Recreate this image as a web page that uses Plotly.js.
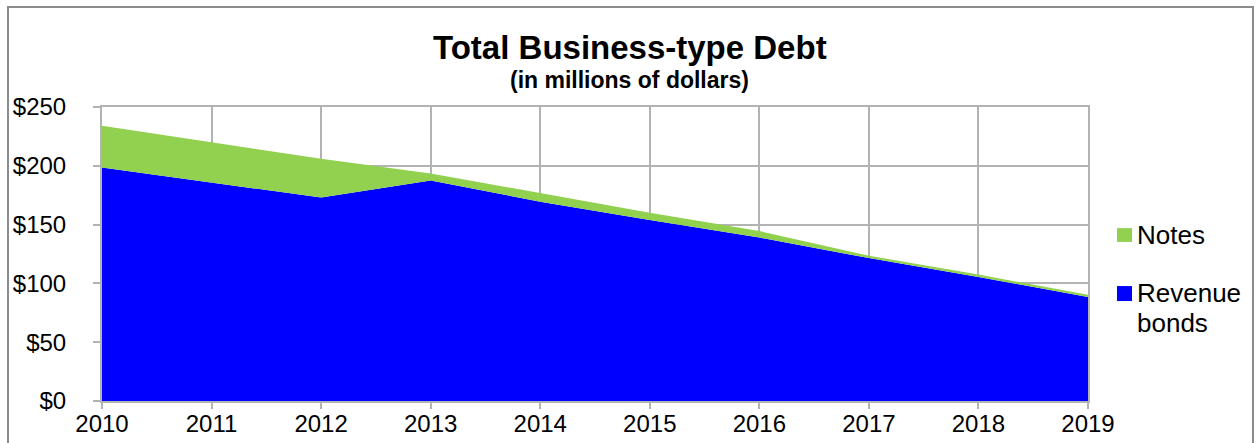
<!DOCTYPE html>
<html>
<head>
<meta charset="utf-8">
<script src="https://cdn.plot.ly/plotly-3.0.1.min.js"></script>
<style>
  html, body { margin: 0; padding: 0; background: #fff; }
  #wrap { position: relative; width: 1257px; height: 443px; overflow: hidden; }
  #chart { width: 1257px; height: 443px; }
  #frame { position: absolute; left: 7px; top: 6px; width: 1247px; height: 460px;
           border: 2px solid #8c8c8c; box-sizing: border-box; pointer-events: none; }
</style>
</head>
<body>
<div id="wrap">
  <div id="chart"></div>
  <div id="frame"></div>
</div>
<script>
const years = [2010, 2011, 2012, 2013, 2014, 2015, 2016, 2017, 2018, 2019];
const revenueBonds = [198.5, 185.5, 173, 187.5, 169.5, 154, 139, 121.5, 105.5, 88.5];
const notes = [35.5, 34.5, 33, 6, 7, 6, 5.5, 2, 2, 1.8];
const yTicks = [0, 50, 100, 150, 200, 250];
const yTickText = ['$0', '$50', '$100', '$150', '$200', '$250'];

const colBlue = '#0000FF';
const colGreen = '#92D050';
const gridCol = '#b3b3b3';
const fontFam = '"Liberation Sans", Arial, sans-serif';

const traces = [
  { x: years, y: revenueBonds, name: 'Revenue bonds', type: 'scatter', mode: 'lines',
    stackgroup: 'one', line: { width: 0, color: colBlue }, fillcolor: colBlue },
  { x: years, y: notes, name: 'Notes', type: 'scatter', mode: 'lines',
    stackgroup: 'one', line: { width: 0, color: colGreen }, fillcolor: colGreen }
];

const layout = {
  width: 1257, height: 443,
  margin: { l: 102, r: 169, t: 107, b: 42 },
  paper_bgcolor: '#fff', plot_bgcolor: '#fff',
  showlegend: false,
  font: { family: fontFam, size: 24, color: '#000' },
  xaxis: {
    range: [2010, 2019], tickvals: years, ticktext: years.map(String),
    showgrid: true, gridcolor: gridCol, gridwidth: 2,
    showline: true, linecolor: gridCol, linewidth: 2, mirror: true,
    ticks: 'outside', ticklen: 6, tickwidth: 2, tickcolor: gridCol,
    ticklabelstandoff: -6,
    tickfont: { family: fontFam, size: 24, color: '#000' }, zeroline: false
  },
  yaxis: {
    range: [0, 250], tickvals: yTicks, ticktext: yTickText,
    showgrid: true, gridcolor: gridCol, gridwidth: 2,
    showline: true, linecolor: gridCol, linewidth: 2, mirror: true,
    ticks: 'outside', ticklen: 7, tickwidth: 2, tickcolor: gridCol,
    ticklabelstandoff: 22,
    tickfont: { family: fontFam, size: 24, color: '#000' }, zeroline: false
  },
  annotations: [
    { text: '<b>Total Business-type Debt</b>', xref: 'paper', yref: 'paper',
      x: 0.535, y: 1, yshift: 60, xanchor: 'center', yanchor: 'middle', showarrow: false,
      font: { family: fontFam, size: 33, color: '#000' } },
    { text: '<b>(in millions of dollars)</b>', xref: 'paper', yref: 'paper',
      x: 0.535, y: 1, yshift: 27, xanchor: 'center', yanchor: 'middle', showarrow: false,
      font: { family: fontFam, size: 23, color: '#000' } },
    { text: 'Notes', xref: 'paper', yref: 'paper', x: 1, xshift: 47, y: 0.565,
      xanchor: 'left', yanchor: 'middle', showarrow: false, align: 'left',
      font: { family: fontFam, size: 26, color: '#000' } },
    { text: 'Revenue', xref: 'paper', yref: 'paper', x: 1, xshift: 47, y: 0.367,
      xanchor: 'left', yanchor: 'middle', showarrow: false, align: 'left',
      font: { family: fontFam, size: 26, color: '#000' } },
    { text: 'bonds', xref: 'paper', yref: 'paper', x: 1, xshift: 47, y: 0.265,
      xanchor: 'left', yanchor: 'middle', showarrow: false, align: 'left',
      font: { family: fontFam, size: 26, color: '#000' } }
  ],
  shapes: [
    { type: 'rect', xref: 'paper', yref: 'paper', x0: 1.0294, x1: 1.0446, y0: 0.541, y1: 0.588,
      fillcolor: colGreen, line: { width: 0 } },
    { type: 'rect', xref: 'paper', yref: 'paper', x0: 1.0294, x1: 1.0446, y0: 0.340, y1: 0.391,
      fillcolor: colBlue, line: { width: 0 } }
  ]
};

Plotly.newPlot('chart', traces, layout, { displayModeBar: false, staticPlot: true });
</script>
</body>
</html>
